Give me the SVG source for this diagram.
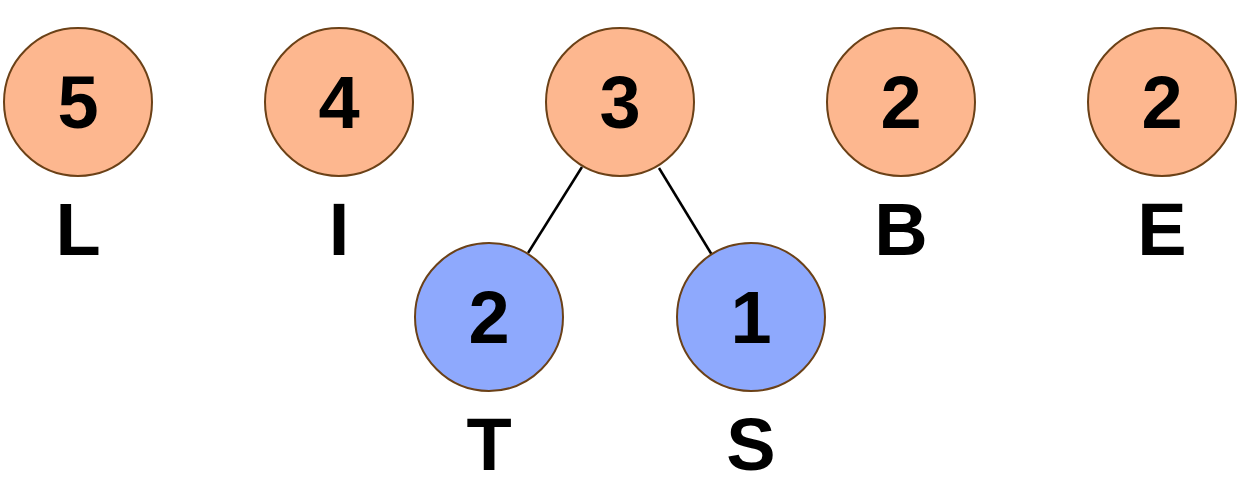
<svg xmlns="http://www.w3.org/2000/svg" width="1245" height="483" viewBox="0 0 1245 483">
<style>
.o{fill:#FDB78F;stroke:#6B4117;stroke-width:2}
.b{fill:#8EA9FD;stroke:#6B4117;stroke-width:2}
text{font-family:"Liberation Sans",Arial,sans-serif;font-weight:bold;font-size:74px;fill:#000;text-anchor:middle}
.e{stroke:#000;stroke-width:2.5;fill:none}
</style>
<rect width="1245" height="483" fill="#fff"/>
<g id="connectors">
<line class="e" x1="582" y1="167" x2="528" y2="253"/>
<line class="e" x1="659" y1="168" x2="712" y2="255"/>
</g>
<g id="node-L"><circle class="o" cx="78" cy="102" r="74"/><text x="78" y="128">5</text><text x="78" y="255">L</text></g>
<g id="node-I"><circle class="o" cx="339" cy="102" r="74"/><text x="339" y="128">4</text><text x="339" y="255">I</text></g>
<g id="node-3"><circle class="o" cx="620" cy="102" r="74"/><text x="620" y="128">3</text></g>
<g id="node-B"><circle class="o" cx="901" cy="102" r="74"/><text x="901" y="128">2</text><text x="901" y="255">B</text></g>
<g id="node-E"><circle class="o" cx="1162" cy="102" r="74"/><text x="1162" y="128">2</text><text x="1162" y="255">E</text></g>
<g id="node-T"><circle class="b" cx="489" cy="317" r="74"/><text x="489" y="343">2</text><text x="489" y="470">T</text></g>
<g id="node-S"><circle class="b" cx="751" cy="317" r="74"/><text x="751" y="343">1</text><text x="751" y="470">S</text></g>
</svg>
